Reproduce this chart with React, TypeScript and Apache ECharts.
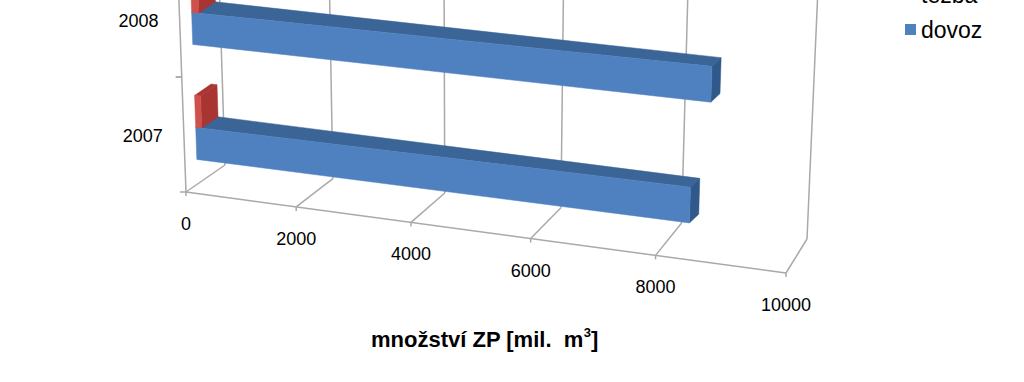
import React, { useEffect, useRef } from "react";
import * as echarts from "echarts";

const years = ["2007", "2008"];
const dovoz = [8400, 8675];
const tezba = [110, 130];
const valueTicks = [0, 2000, 4000, 6000, 8000, 10000];

const GRID_W = 1000;
const GRID_H = 230;
const FONT = "Liberation Sans, Arial, sans-serif";
const GREY = "#a9a9a9";

function proj(u: number, d: number, z: number): number[] {
  const gf = (0.9 * u) / (1 - 0.1 * u);
  const gb = (0.91 * u) / (1 - 0.09 * u);
  const fx = 186 + 600 * gf;
  const fy = 192 + 81 * gf;
  const bx = 225 + 582 * gb;
  const by = 165 + 74 * gb;
  const x0 = fx + (bx - fx) * d;
  const y0 = fy + (by - fy) * d;
  const lean = (x0 - 470) * 0.00013;
  return [x0 + lean * z, y0 - z];
}

const line = (a: number[], b: number[]) => ({
  type: "line",
  shape: { x1: a[0], y1: a[1], x2: b[0], y2: b[1] },
  style: { stroke: GREY, lineWidth: 1.5, fill: "none" },
});

const poly = (points: number[][], fill: string) => ({
  type: "polygon",
  shape: { points },
  style: { fill, stroke: fill, lineWidth: 0.5 },
});

function barRenderer(loStep: number, hiStep: number, front: string, top: string, end: string) {
  return (_: any, api: any) => {
    const p = api.coord([api.value(0), api.value(1)]);
    const u = p[0] / GRID_W;
    const c = GRID_H - p[1];
    const d1 = 0.3;
    const d2 = (t: number) => 0.72 - 0.18 * t;
    const z = (t: number, step: number) => (c - 33) * (1 + 0.08 * t) + step * 32 * (1 + 0.14 * t);
    const P = (t: number, back: boolean, step: number) => {
      const q = proj(t, back ? d2(t) : d1, z(t, step));
      return back ? [q[0] + 3 * t, q[1]] : q;
    };
    return {
      type: "group",
      children: [
        poly([P(0, false, hiStep), P(0, true, hiStep), P(u, true, hiStep), P(u, false, hiStep)], top),
        poly([P(u, false, loStep), P(u, true, loStep), P(u, true, hiStep), P(u, false, hiStep)], end),
        poly([P(0, false, loStep), P(u, false, loStep), P(u, false, hiStep), P(0, false, hiStep)], front),
      ],
    };
  };
}

function renderValueTick(_: any, api: any) {
  const v = api.value(0);
  const u = api.coord([v, 0])[0] / GRID_W;
  const f = proj(u, 0, 0);
  const b = proj(u, 1, 0);
  const children: any[] = [
    line(f, b),
    line(b, proj(u, 1, 260)),
    line(f, [f[0], f[1] + 4]),
    {
      type: "text",
      style: {
        text: String(v),
        x: f[0],
        y: f[1] + 32,
        align: "center",
        verticalAlign: "middle",
        fontFamily: FONT,
        fontSize: 18,
        fill: "#000",
      },
    },
  ];
  if (v === 0) children.push(line(f, proj(0, 0, 260)));
  if (v === 10000) children.push(line(proj(0, 0, 0), f));
  return { type: "group", children };
}

function renderYearTick(_: any, api: any) {
  const i = api.value(1);
  const c = GRID_H - api.coord([0, i])[1];
  const half = api.size([0, 1])[1] / 2;
  const lo = proj(0, 0, c - half);
  const hi = proj(0, 0, c + half);
  const mid = proj(0, 0, c);
  return {
    type: "group",
    children: [
      line(lo, [lo[0] - 6, lo[1]]),
      line(hi, [hi[0] - 6, hi[1]]),
      {
        type: "text",
        style: {
          text: years[i],
          x: mid[0] - 21,
          y: mid[1] + 1,
          align: "right",
          verticalAlign: "middle",
          fontFamily: FONT,
          fontSize: 18,
          fill: "#000",
        },
      },
    ],
  };
}

export default function App() {
  const ref = useRef<HTMLDivElement>(null);
  useEffect(() => {
    document.body.style.margin = "0";
    const chart = echarts.init(ref.current!, undefined, { renderer: "svg" });
    chart.setOption({
      animation: false,
      backgroundColor: "#fff",
      title: {
        text: "{a|množství ZP [mil.  m}{b|3}{a|]}",
        left: 371,
        top: 326,
        padding: 0,
        textStyle: {
          rich: {
            a: { fontFamily: FONT, fontWeight: "bold", fontSize: 22, color: "#000", lineHeight: 26 },
            b: { fontFamily: FONT, fontWeight: "bold", fontSize: 13, color: "#000", verticalAlign: "top", lineHeight: 26 },
          },
        },
      },
      legend: {
        orient: "vertical",
        left: 905,
        top: -17,
        padding: 0,
        itemGap: 12,
        itemWidth: 11,
        itemHeight: 11,
        icon: "rect",
        data: ["těžba", "dovoz"],
        textStyle: { fontFamily: FONT, fontSize: 23, color: "#000" },
      },
      grid: { left: 0, top: 0, width: GRID_W, height: GRID_H },
      xAxis: { type: "value", min: 0, max: 10000, interval: 2000, show: false },
      yAxis: { type: "category", data: years, show: false },
      series: [
        {
          type: "custom",
          name: "osa",
          silent: true,
          renderItem: renderValueTick,
          data: valueTicks.map((v) => [v, 0]),
          encode: { x: 0, y: 1 },
        },
        {
          type: "custom",
          name: "roky",
          silent: true,
          renderItem: renderYearTick,
          data: years.map((_, i) => [0, i]),
          encode: { x: 0, y: 1 },
        },
        {
          type: "custom",
          name: "dovoz",
          itemStyle: { color: "#4f81bd" },
          renderItem: barRenderer(0, 1, "#4f81c0", "#3b6596", "#30598b"),
          data: dovoz.map((v, i) => [v, i]),
          encode: { x: 0, y: 1 },
        },
        {
          type: "custom",
          name: "těžba",
          itemStyle: { color: "#c0504d" },
          renderItem: barRenderer(1, 2, "#d0504c", "#a93532", "#a93532"),
          data: tezba.map((v, i) => [v, i]),
          encode: { x: 0, y: 1 },
        },
      ],
    });
    return () => chart.dispose();
  }, []);
  return <div ref={ref} style={{ position: "fixed", left: 0, top: 0, width: 1024, height: 382 }} />;
}
